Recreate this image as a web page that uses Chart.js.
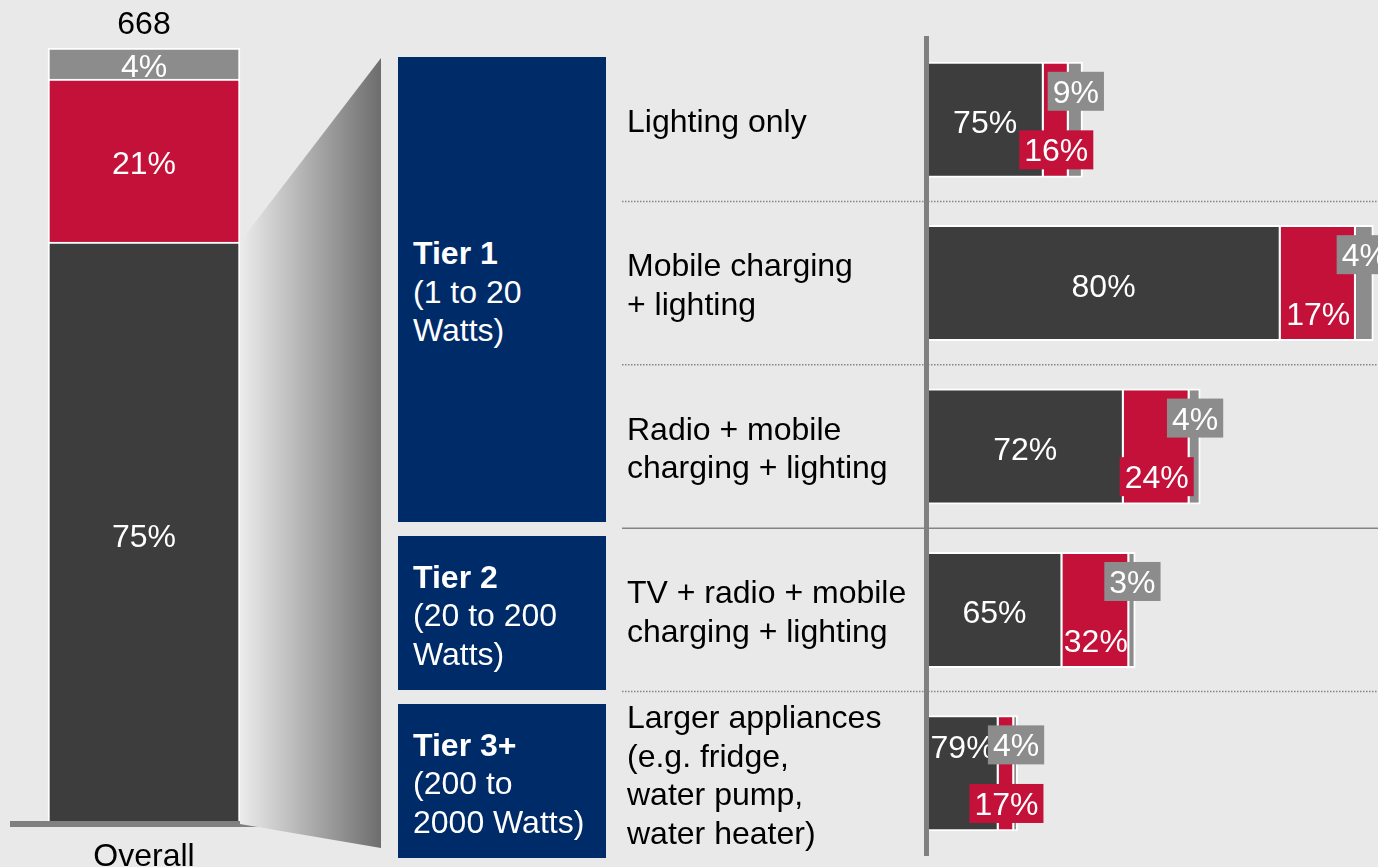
<!DOCTYPE html>
<html>
<head>
<meta charset="utf-8">
<script src="https://cdn.jsdelivr.net/npm/chart.js@4.4.1/dist/chart.umd.min.js"></script>
<style>
  html, body { margin: 0; padding: 0; width: 1378px; height: 867px; overflow: hidden;
    background: #e9e9e9; font-family: "Liberation Sans", Arial, sans-serif; }
  canvas { position: absolute; top: 0; }
  #overall { left: 0; }
  #usage { left: 600px; }
  .tier { position: absolute; left: 398px; width: 208px; box-sizing: border-box;
    padding: 5px 0 0 15px; background: #002b69; color: #fff; font-size: 32px;
    line-height: 38.5px; display: flex; flex-direction: column; justify-content: center; }
  .tier b { font-weight: bold; }
</style>
</head>
<body>
<canvas id="overall" width="392" height="867" style="width:392px;height:867px"></canvas>
<canvas id="usage" width="778" height="867" style="width:778px;height:867px"></canvas>
<script>
// ---- data ----
const overallLabel = ['Overall'];
const overallRespondents = 668;
const overallDark = [75];
const overallRed = [21];
const overallGray = [4];

const categories = [
  ['Lighting only'],
  ['Mobile charging', '+ lighting'],
  ['Radio + mobile', 'charging + lighting'],
  ['TV + radio + mobile', 'charging + lighting'],
  ['Larger appliances', '(e.g. fridge,', 'water pump,', 'water heater)']
];
const respondents = [89, 252, 156, 119, 52];
const shareDark = [75, 80, 72, 65, 79];
const shareRed = [16, 17, 24, 32, 17];
const shareGray = [9, 4, 4, 3, 4];

const tierNames = ['Tier 1', 'Tier 2', 'Tier 3+'];
const tierRanges = [['(1 to 20', 'Watts)'], ['(20 to 200', 'Watts)'], ['(200 to', '2000 Watts)']];

// ---- styling / layout ----
const FONT = "'Liberation Sans', Arial, sans-serif";
const DARK = '#3d3d3d';
const RED = '#c4113a';
const GRAY = '#8c8c8c';
const AXIS = '#808080';
const LINE_PITCH = 38.5;
const tierBoxLayout = [[57, 522], [536, 690], [704, 858]];
const separatorDotted = [true, true, false, true];

tierNames.forEach((name, t) => {
  const box = document.createElement('div');
  box.className = 'tier';
  box.style.top = tierBoxLayout[t][0] + 'px';
  box.style.height = (tierBoxLayout[t][1] - tierBoxLayout[t][0]) + 'px';
  const head = document.createElement('b');
  head.textContent = name;
  box.appendChild(head);
  tierRanges[t].forEach(line => {
    const s = document.createElement('span');
    s.textContent = line;
    box.appendChild(s);
  });
  document.body.appendChild(box);
});

// writes text so that the middle of its capitals sits on cy
function capText(ctx, text, x, cy) {
  ctx.textBaseline = 'alphabetic';
  ctx.fillText(text, x, cy + 11.5);
}

// ---- overall column ----
const overallLabels = {
  id: 'overallLabels',
  afterDatasetsDraw(chart) {
    const ctx = chart.ctx;
    ctx.save();
    ctx.font = '32px ' + FONT;
    ctx.textAlign = 'center';
    const shares = [overallDark, overallRed, overallGray];
    ctx.fillStyle = '#fff';
    shares.forEach((arr, d) => {
      const el = chart.getDatasetMeta(d).data[0];
      capText(ctx, arr[0] + '%', el.x, (el.y + el.base) / 2 + 2);
    });
    const topEl = chart.getDatasetMeta(2).data[0];
    ctx.fillStyle = '#000';
    capText(ctx, String(overallRespondents), topEl.x, topEl.y - 26);
    ctx.restore();
  }
};

const callout = {
  id: 'callout',
  afterDraw(chart) {
    const ctx = chart.ctx;
    const dark = chart.getDatasetMeta(0).data[0];
    const xL = dark.x + dark.width / 2;
    const yTL = dark.y;
    const yBL = chart.chartArea.bottom;
    const xR = 381, yTR = 58, yBR = 848;
    const g = ctx.createLinearGradient(xL, 0, xR, 0);
    g.addColorStop(0, '#ececec');
    g.addColorStop(1, '#6d6d6d');
    ctx.save();
    ctx.fillStyle = g;
    ctx.beginPath();
    ctx.moveTo(xL, yTL);
    ctx.lineTo(xR, yTR);
    ctx.lineTo(xR, yBR);
    ctx.lineTo(xL, yBL);
    ctx.closePath();
    ctx.fill();
    ctx.restore();
  }
};

new Chart(document.getElementById('overall'), {
  type: 'bar',
  data: {
    labels: overallLabel,
    datasets: [
      { data: overallDark, backgroundColor: DARK },
      { data: overallRed, backgroundColor: RED },
      { data: overallGray, backgroundColor: GRAY }
    ]
  },
  options: {
    responsive: false,
    animation: false,
    layout: { padding: { left: 13, right: 117, top: 48, bottom: 0 } },
    datasets: { bar: { borderColor: '#ffffff', borderWidth: 2, barThickness: 192 } },
    plugins: { legend: { display: false }, tooltip: { enabled: false } },
    scales: {
      x: {
        stacked: true,
        grid: { display: false, drawTicks: false },
        border: { display: true, color: AXIS, width: 6, z: 1 },
        ticks: { color: '#000', font: { family: FONT, size: 32 }, padding: 14 },
        afterFit(scale) { scale.height = 43; scale.paddingLeft = 0; scale.paddingRight = 0; }
      },
      y: { stacked: true, min: 0, max: 100, display: false }
    }
  },
  plugins: [overallLabels, callout]
});

// ---- usage bars ----
const separators = {
  id: 'separators',
  beforeDraw(chart) {
    const ctx = chart.ctx;
    const y = chart.scales.y;
    ctx.save();
    ctx.strokeStyle = '#858585';
    ctx.lineWidth = 1.5;
    for (let i = 0; i < categories.length - 1; i++) {
      const yy = (y.getPixelForValue(i) + y.getPixelForValue(i + 1)) / 2;
      ctx.setLineDash(separatorDotted[i] ? [1.5, 1.5] : []);
      ctx.beginPath();
      ctx.moveTo(22, yy);
      ctx.lineTo(chart.width, yy);
      ctx.stroke();
    }
    ctx.restore();
  }
};

// category names, left-aligned in the axis area and centred on each bar
const categoryLabels = {
  id: 'categoryLabels',
  afterDraw(chart) {
    const ctx = chart.ctx;
    const y = chart.scales.y;
    ctx.save();
    ctx.font = '32px ' + FONT;
    ctx.fillStyle = '#000';
    ctx.textAlign = 'left';
    categories.forEach((lines, i) => {
      const c = y.getPixelForValue(i) + 1;
      lines.forEach((line, k) => {
        capText(ctx, line, y.left, c + (k - (lines.length - 1) / 2) * LINE_PITCH);
      });
    });
    ctx.restore();
  }
};

function boxedLabel(ctx, text, cx, cy, fill, segWidth) {
  const tw = ctx.measureText(text).width;
  if (segWidth < tw + 2.5) {
    ctx.fillStyle = fill;
    ctx.fillRect(cx - tw / 2 - 5, cy - 19.5, tw + 10, 39);
  }
  ctx.fillStyle = '#fff';
  capText(ctx, text, cx, cy);
}

const segmentLabels = {
  id: 'segmentLabels',
  afterDatasetsDraw(chart) {
    const ctx = chart.ctx;
    const mDark = chart.getDatasetMeta(0).data;
    const mRed = chart.getDatasetMeta(1).data;
    const mGray = chart.getDatasetMeta(2).data;
    ctx.save();
    ctx.font = '32px ' + FONT;
    ctx.textAlign = 'center';
    categories.forEach((c, i) => {
      const d = mDark[i], r = mRed[i], g = mGray[i];
      const top = d.y - d.height / 2;
      const h = d.height;
      const dText = shareDark[i] + '%';
      const dw = d.x - d.base;
      const dy = dw < ctx.measureText(dText).width + 20 ? top + h * 0.27 : d.y + 2;
      ctx.fillStyle = '#fff';
      capText(ctx, dText, (d.base + d.x) / 2, dy);
      boxedLabel(ctx, shareGray[i] + '%', (g.base + g.x) / 2, top + h * 0.255, GRAY, 0);
      boxedLabel(ctx, shareRed[i] + '%', (r.base + r.x) / 2, top + h * 0.76, RED, r.x - r.base);
    });
    ctx.restore();
  }
};

new Chart(document.getElementById('usage'), {
  type: 'bar',
  data: {
    labels: categories,
    datasets: [
      { data: respondents.map((n, i) => n * shareDark[i] / 100), backgroundColor: DARK },
      { data: respondents.map((n, i) => n * shareRed[i] / 100), backgroundColor: RED },
      { data: respondents.map((n, i) => n * shareGray[i] / 100), backgroundColor: GRAY }
    ]
  },
  options: {
    indexAxis: 'y',
    responsive: false,
    animation: false,
    layout: { padding: { left: 27, top: 38, right: 0, bottom: 12 } },
    datasets: { bar: { borderColor: '#ffffff', borderWidth: 2, categoryPercentage: 1, barPercentage: 0.71 } },
    plugins: { legend: { display: false }, tooltip: { enabled: false } },
    scales: {
      x: { stacked: true, min: 0, max: 257, display: false },
      y: {
        stacked: true,
        grid: { display: false, drawTicks: false },
        border: { display: true, color: AXIS, width: 5, z: 1 },
        ticks: { display: false },
        afterFit(scale) {
          scale.width = 299.5;
          scale.paddingTop = 0;
          scale.paddingBottom = 0;
        }
      }
    }
  },
  plugins: [separators, segmentLabels, categoryLabels]
});
</script>
</body>
</html>
